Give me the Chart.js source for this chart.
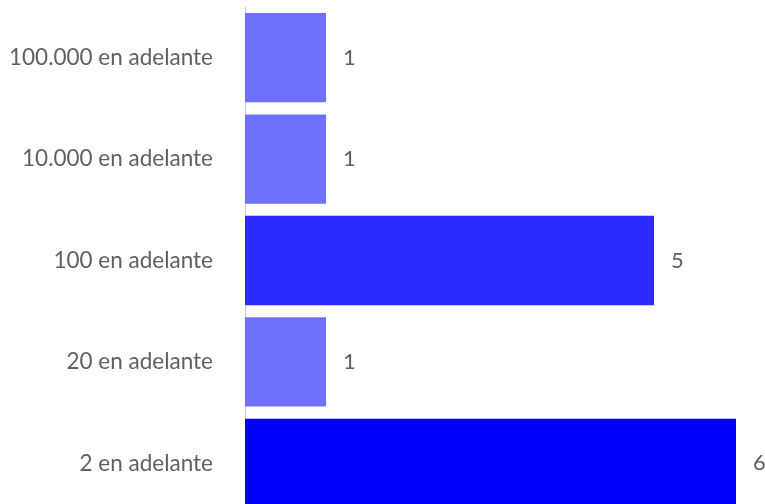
<!DOCTYPE html>
<html>
<head>
<meta charset="utf-8">
<script src="https://cdn.jsdelivr.net/npm/chart.js@4"></script>
<style>
  html, body { margin: 0; padding: 0; background: #fff; overflow: hidden; }
</style>
</head>
<body>
<canvas id="myChart" width="765" height="520"></canvas>
<script>
const categories = ['100.000 en adelante', '10.000 en adelante', '100 en adelante', '20 en adelante', '2 en adelante'];
const counts = [1, 1, 5, 1, 6];
const barColors = ['#7070ff', '#7070ff', '#2b2bff', '#7070ff', '#0000ff'];
const xRange = [0, 6];

// number to the right of each bar
const valueLabels = {
    id: 'valueLabels',
    afterDatasetsDraw(chart) {
        const ctx = chart.ctx;
        const meta = chart.getDatasetMeta(0);
        ctx.save();
        ctx.font = '22px Lato';
        ctx.fillStyle = '#606060';
        ctx.textAlign = 'left';
        ctx.textBaseline = 'middle';
        meta.data.forEach((bar, i) => {
            ctx.fillText(String(counts[i]), bar.x + 16, bar.y);
        });
        ctx.restore();
    }
};

const ctx = document.getElementById('myChart').getContext('2d');
new Chart(ctx, {
    type: 'bar',
    data: {
        labels: categories,
        datasets: [{
            data: counts,
            backgroundColor: barColors,
            borderColor: 'rgba(255,255,255,0.5)',
            borderWidth: 1,
            categoryPercentage: 1,
            barPercentage: 0.9
        }]
    },
    options: {
        indexAxis: 'y',
        responsive: false,
        animation: false,
        layout: { padding: { top: 7, right: 28, bottom: 6, left: 0 } },
        plugins: {
            legend: { display: false },
            tooltip: { enabled: false }
        },
        scales: {
            x: {
                display: false,
                min: xRange[0],
                max: xRange[1]
            },
            y: {
                grid: { display: false },
                border: { display: true, color: '#c8c8c8', width: 1 },
                ticks: {
                    color: '#606060',
                    font: { family: 'Lato', size: 22.5 },
                    padding: 24
                },
                afterFit(scale) {
                    scale.width = 245;
                    scale.paddingTop = 0;
                    scale.paddingBottom = 0;
                }
            }
        }
    },
    plugins: [valueLabels]
});
</script>
</body>
</html>
